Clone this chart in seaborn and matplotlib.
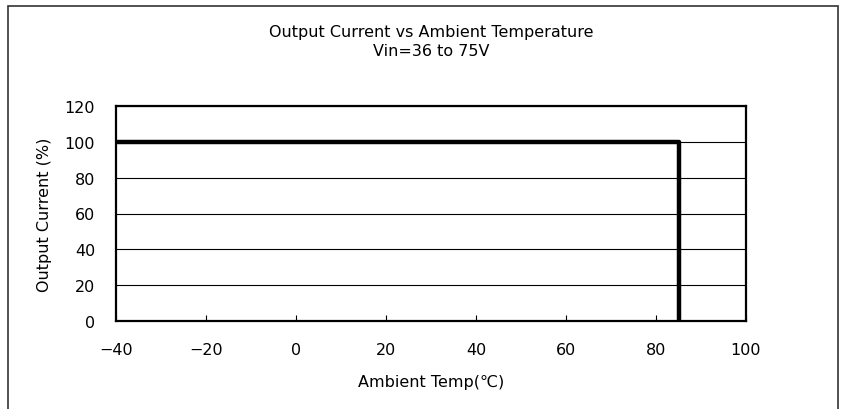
import matplotlib
matplotlib.use("Agg")
import matplotlib.pyplot as plt
import seaborn as sns
import pandas as pd

# derating curve points
temp = [-40, 85, 85]
current = [100, 100, 0]
x_ticks = [-40, -20, 0, 20, 40, 60, 80, 100]
y_ticks = [0, 20, 40, 60, 80, 100, 120]

sns.set_style("white")
plt.rcParams['font.family'] = ['DejaVu Sans', 'Noto Sans CJK JP']
plt.rcParams['text.color'] = 'black'
plt.rcParams['axes.labelcolor'] = 'black'
plt.rcParams['xtick.color'] = 'black'
plt.rcParams['ytick.color'] = 'black'

df = pd.DataFrame({'temp': temp, 'current': current})

fig = plt.figure(figsize=(8.42, 4.10), dpi=100)
ax = fig.add_axes([116/842, 1-322/410, 630/842, 215/410])

sns.lineplot(data=df, x='temp', y='current', sort=False, estimator=None,
             color='black', linewidth=3.2, ax=ax, zorder=3)

ax.set_xlim(-40, 100)
ax.set_ylim(0, 120)
ax.set_xticks(x_ticks)
ax.set_yticks(y_ticks)
ax.grid(axis='y', color='black', linewidth=0.8)
ax.grid(axis='x', visible=False)
for s in ax.spines.values():
    s.set_color('black')
    s.set_linewidth(1.6)
ax.tick_params(axis='x', direction='in', length=4, width=0.8, bottom=True,
               pad=15, labelsize=11.5)
ax.tick_params(axis='y', length=0, pad=15, labelsize=11.5)
ax.set_xticklabels([str(t).replace('-', '\u2212') for t in x_ticks])

ax.set_xlabel('Ambient Temp(℃)', fontsize=11.5, labelpad=12)
ax.set_ylabel('Output Current (%)', fontsize=11.5, labelpad=9)
fig.text(431/842, 1-42/410, 'Output Current vs Ambient Temperature\nVin=36 to 75V',
         ha='center', va='center', fontsize=11.5, linespacing=1.4)

# outer frame of the chart area
frame = plt.Rectangle((8/842, -0.05), 830/842, 1.05 - 7/410, transform=fig.transFigure,
                      fill=False, edgecolor='#333333', linewidth=1.2)
fig.patches.append(frame)

fig.savefig('out.png', dpi=100)
